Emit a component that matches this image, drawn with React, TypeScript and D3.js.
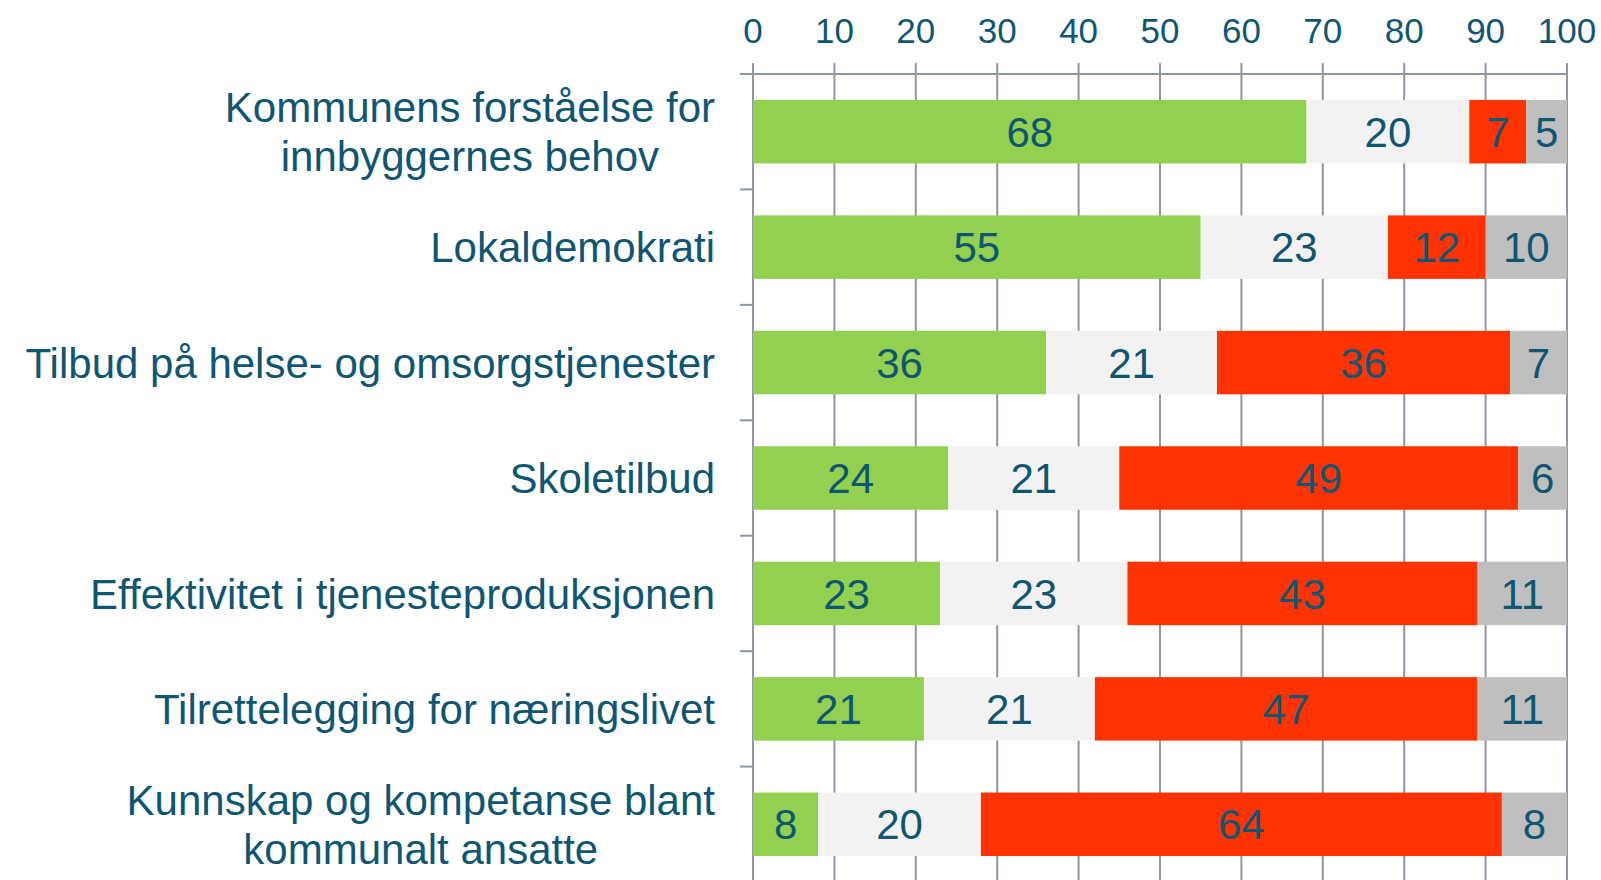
import React from "react";
import * as d3 from "d3";

// categories (top to bottom), each label split into lines
const categories = [
  ["Kommunens forståelse for", "innbyggernes behov"],
  ["Lokaldemokrati"],
  ["Tilbud på helse- og omsorgstjenester"],
  ["Skoletilbud"],
  ["Effektivitet i tjenesteproduksjonen"],
  ["Tilrettelegging for næringslivet"],
  ["Kunnskap og kompetanse blant", "kommunalt ansatte"],
];

// series values in percent
const positive = [68, 55, 36, 24, 23, 21, 8];
const neutral = [20, 23, 21, 21, 23, 21, 20];
const negative = [7, 12, 36, 49, 43, 47, 64];
const dontKnow = [5, 10, 7, 6, 11, 11, 8];

const xTicks = [0, 10, 20, 30, 40, 50, 60, 70, 80, 90, 100];

const seriesColors = ["#92D050", "#F2F2F2", "#FF3300", "#BFBFBF"];
const textColor = "#0F5672";
const gridColor = "#8D98A4";

const W = 1601;
const H = 880;
const font = "'Liberation Sans', Arial, sans-serif";
const labelSize = 42;

// measure text width so multi-line labels can be centred as a block
const measure = (() => {
  const ctx = document.createElement("canvas").getContext("2d");
  return (s: string, size: number) => {
    if (!ctx) return s.length * size * 0.5;
    ctx.font = `${size}px 'Liberation Sans', Arial, sans-serif`;
    return ctx.measureText(s).width;
  };
})();

const App = () => {
  const series = [positive, neutral, negative, dontKnow];

  const x = d3.scaleLinear().domain([0, 100]).range([753, 1567]);
  const y = d3
    .scaleBand<number>()
    .domain(d3.range(categories.length))
    .range([74, 882])
    .paddingInner(0.45)
    .paddingOuter(0.225);

  const step = y.step();
  const axisTop = 74;
  const labelRight = 715;

  // stack segments per row
  const rows = categories.map((_, i) => {
    let acc = 0;
    return series.map((s, k) => {
      const start = acc;
      acc += s[i];
      return { k, start, end: acc, value: s[i] };
    });
  });

  return (
    <svg
      width={W}
      height={H}
      style={{ position: "absolute", left: 0, top: 0, background: "#fff" }}
    >
      {/* vertical gridlines */}
      {xTicks.map((t) => (
        <line
          key={"g" + t}
          x1={x(t)}
          x2={x(t)}
          y1={63}
          y2={H}
          stroke={gridColor}
          strokeWidth={2}
        />
      ))}
      {/* top axis line */}
      <line x1={740} x2={x(100)} y1={axisTop} y2={axisTop} stroke={gridColor} strokeWidth={2} />
      {/* category tick marks on the left axis */}
      {d3.range(1, categories.length).map((i) => (
        <line
          key={"c" + i}
          x1={740}
          x2={x(0)}
          y1={axisTop + i * step}
          y2={axisTop + i * step}
          stroke={gridColor}
          strokeWidth={2}
        />
      ))}
      {/* tick labels */}
      {xTicks.map((t) => (
        <text
          key={"t" + t}
          x={x(t)}
          y={43}
          textAnchor="middle"
          fontFamily={font}
          fontSize={35}
          fill={textColor}
        >
          {t}
        </text>
      ))}
      {/* bars */}
      {rows.map((segs, i) =>
        segs.map((d) => (
          <g key={`b${i}-${d.k}`}>
            <rect
              x={x(d.start)}
              y={y(i)}
              width={x(d.end) - x(d.start)}
              height={y.bandwidth()}
              fill={seriesColors[d.k]}
            />
            <text
              x={(x(d.start) + x(d.end)) / 2}
              y={(y(i) as number) + y.bandwidth() / 2}
              dy="0.36em"
              textAnchor="middle"
              fontFamily={font}
              fontSize={42}
              fill={textColor}
            >
              {d.value}
            </text>
          </g>
        ))
      )}
      {/* category labels */}
      {categories.map((lines, i) => {
        const cy = (y(i) as number) + y.bandwidth() / 2;
        const lh = 49;
        const first = cy - ((lines.length - 1) * lh) / 2;
        const blockW = d3.max(lines, (ln) => measure(ln, labelSize)) ?? 0;
        const cx = labelRight - blockW / 2;
        return (
          <text
            key={"l" + i}
            textAnchor="middle"
            fontFamily={font}
            fontSize={labelSize}
            fill={textColor}
          >
            {lines.map((ln, j) => (
              <tspan key={j} x={cx} y={first + j * lh} dy="0.36em">
                {ln}
              </tspan>
            ))}
          </text>
        );
      })}
    </svg>
  );
};

export default App;
